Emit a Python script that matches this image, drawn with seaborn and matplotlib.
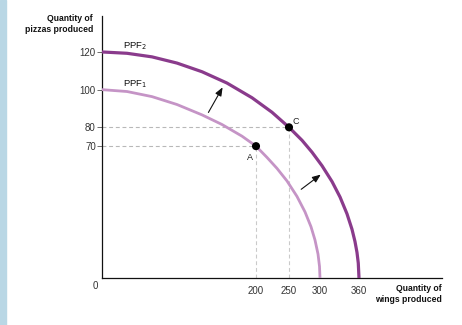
import numpy as np
import matplotlib
matplotlib.use("Agg")
import matplotlib.pyplot as plt
from matplotlib.patches import Rectangle
import pandas as pd
import seaborn as sns

# Production possibility frontiers (wings, pizzas)
ppf1_wings = [0, 32.5, 64.9, 97.4, 129.9, 155.8, 181.8, 200, 216.7, 231.8,
              247.0, 262.9, 275.8, 285.5, 291.9, 296.8, 299.2, 300]
ppf1_pizzas = [100, 99.0, 96.3, 92.1, 86.6, 81.5, 75.3, 70, 64.0, 58.2,
               51.5, 43.3, 35.1, 27.2, 20.2, 12.7, 6.2, 0]
ppf2_wings = [0, 32.5, 64.9, 97.4, 129.9, 162.3, 194.8, 224.2, 250, 271.0,
              287.1, 303.1, 318.5, 330.8, 341.5, 349.2, 353.8, 356.9, 358.9, 360]
ppf2_pizzas = [120, 119.3, 117.4, 114.1, 109.5, 103.5, 95.7, 88.0, 80, 73.1,
               66.8, 59.6, 51.2, 43.0, 34.1, 25.9, 19.4, 13.6, 7.9, 0]

point_names = ["A", "C"]
point_wings = [200, 250]
point_pizzas = [70, 80]

x_ticks = [200, 250, 300, 360]
y_ticks = [70, 80, 100, 120]

sns.set_style("white")
plt.rcParams["font.family"] = ["Liberation Sans", "DejaVu Sans"]

fig = plt.figure(figsize=(4.62, 3.25), dpi=100)
ax = fig.add_axes([0.2208, 0.1446, 0.7359, 0.8062])

# Schematic horizontal axis: uneven spacing between the labelled quantities
x_break = np.array([0, 200, 250, 300, 360, 500], dtype=float)
p_break = np.array([0, 154, 187, 218, 257, 257 + 140 * 39 / 60], dtype=float)
ax.set_xscale("function",
              functions=(lambda v: np.interp(v, x_break, p_break),
                         lambda p: np.interp(p, p_break, x_break)))

df1 = pd.DataFrame({"wings": ppf1_wings, "pizzas": ppf1_pizzas})
df2 = pd.DataFrame({"wings": ppf2_wings, "pizzas": ppf2_pizzas})
pts = pd.DataFrame({"name": point_names, "wings": point_wings, "pizzas": point_pizzas})

# Guide lines to the labelled points
for wx, py in zip(point_wings, point_pizzas):
    ax.plot([0, wx], [py, py], color="#b8b8b8", lw=0.8, ls=(0, (3.5, 2.5)), zorder=1)
    ax.plot([wx, wx], [0, py], color="#cacaca", lw=0.8, ls=(0, (3.5, 2.5)), zorder=1)

sns.lineplot(data=df1, x="wings", y="pizzas", sort=False, ax=ax,
             color="#c594c6", lw=2.0, zorder=3)
sns.lineplot(data=df2, x="wings", y="pizzas", sort=False, ax=ax,
             color="#8a3b8c", lw=2.3, zorder=3)
sns.scatterplot(data=pts, x="wings", y="pizzas", ax=ax, color="black",
                s=34, edgecolor="none", zorder=5)

ax.text(196, 66.5, "A", ha="right", va="top", fontsize=6.5, color="#222")
ax.text(256, 80.5, "C", ha="left", va="bottom", fontsize=6.5, color="#222")

ax.text(27, 123.0, "PPF$_2$", fontsize=6.8, color="#111", va="center")
ax.text(27, 102.6, "PPF$_1$", fontsize=6.8, color="#111", va="center")

# Outward shift arrows
arrow_kw = dict(arrowstyle="-|>,head_length=0.5,head_width=0.2", color="#111", lw=0.8)
ax.annotate("", xy=(158.4, 102.5), xytext=(136.4, 86.6), arrowprops=arrow_kw)
ax.annotate("", xy=(304.6, 55.8), xytext=(266.1, 46.2), arrowprops=arrow_kw)

ax.set_xlim(0, 487.7)
ax.set_ylim(0, 139.1)
ax.set_xticks(x_ticks)
ax.set_yticks(y_ticks)
ax.tick_params(axis="x", length=0, pad=6, labelsize=7, labelcolor="#333")
ax.tick_params(axis="y", length=3.5, width=0.6, color="#555", pad=1.0,
               labelsize=7, labelcolor="#333", left=True)
ax.set_xlabel("")
ax.set_ylabel("")
for side in ("top", "right"):
    ax.spines[side].set_visible(False)
for side in ("left", "bottom"):
    ax.spines[side].set_color("#111")
    ax.spines[side].set_linewidth(0.9)

fig.text(95 / 462, 1 - 286 / 325, "0", ha="center", va="center", fontsize=7, color="#333")
fig.text(93 / 462, 1 - 14 / 325, "Quantity of\npizzas produced", ha="right", va="top",
         fontsize=6.2, fontweight="bold", color="#111", linespacing=1.25)
fig.text(442 / 462, 1 - 284 / 325, "Quantity of\nwings produced", ha="right", va="top",
         fontsize=6.2, fontweight="bold", color="#111", linespacing=1.25)

# Light blue margin strip
fig.patches.append(Rectangle((0, 0), 6 / 462, 1, transform=fig.transFigure,
                             color="#b9d7e5", zorder=0))

fig.savefig("out.png", dpi=100)
